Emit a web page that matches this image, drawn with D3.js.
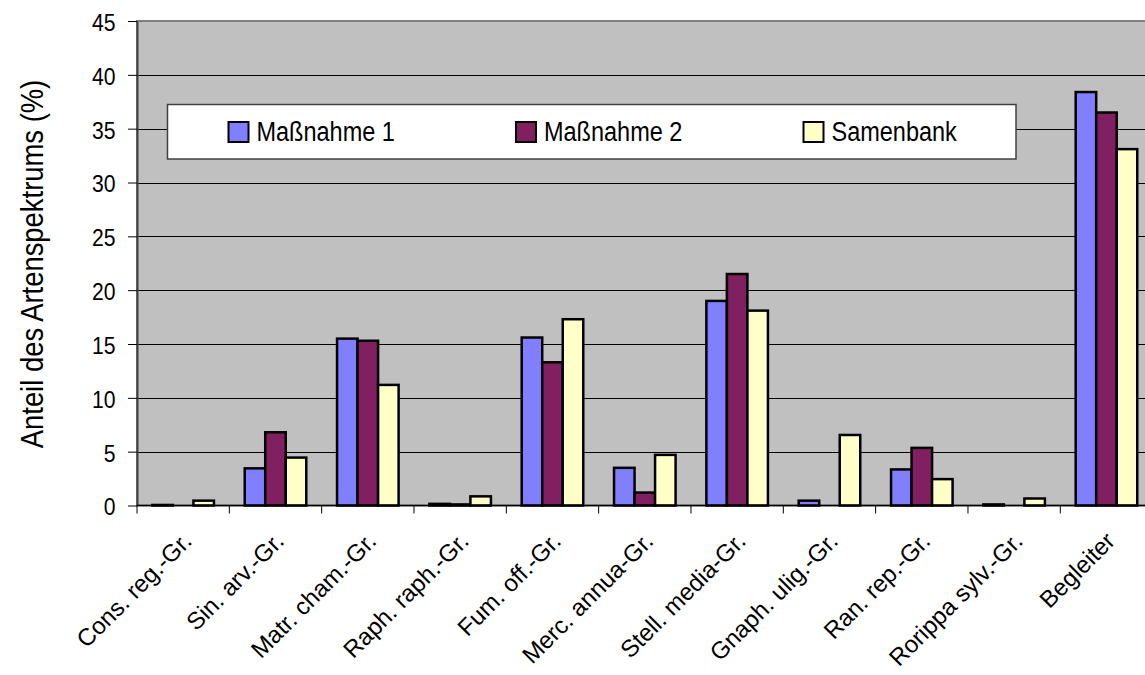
<!DOCTYPE html>
<html>
<head>
<meta charset="utf-8">
<script src="https://cdn.jsdelivr.net/npm/d3@7"></script>
<style>
  body { margin: 0; background: #ffffff; }
  svg { display: block; font-family: "Liberation Sans", Arial, sans-serif; }
</style>
</head>
<body>
<div id="chart"></div>
<script>
/* ********* ********* ********* ********* ********* ********* *********
 * Data
 * ********* ********* ********* ********* ********* ********* ********* */
var categories = ["Cons. reg.-Gr.", "Sin. arv.-Gr.", "Matr. cham.-Gr.", "Raph. raph.-Gr.",
  "Fum. off.-Gr.", "Merc. annua-Gr.", "Stell. media-Gr.", "Gnaph. ulig.-Gr.",
  "Ran. rep.-Gr.", "Rorippa sylv.-Gr.", "Begleiter"];
var seriesNames = ["Maßnahme 1", "Maßnahme 2", "Samenbank"];
var massnahme1 = [0.05, 3.45, 15.5, 0.15, 15.6, 3.5, 19.0, 0.45, 3.35, 0.1, 38.4];
var massnahme2 = [0, 6.8, 15.3, 0.1, 13.3, 1.2, 21.5, 0, 5.35, 0, 36.5];
var samenbank = [0.45, 4.45, 11.2, 0.85, 17.3, 4.7, 18.1, 6.55, 2.45, 0.65, 33.1];
var yTicks = [0, 5, 10, 15, 20, 25, 30, 35, 40, 45];
var yTitle = "Anteil des Artenspektrums (%)";

var colors = ["#8080ff", "#802060", "#ffffc8"];
var seriesValues = [massnahme1, massnahme2, samenbank];

/* ********* ********* ********* ********* ********* ********* *********
 * Layout
 * ********* ********* ********* ********* ********* ********* ********* */
var W = 1145, H = 675;
var plot = { left: 137, top: 21, bottom: 505.5, right: 137 + 92.33 * 11 };

var svg = d3.select("#chart").append("svg")
  .attr("width", W)
  .attr("height", H);

var x = d3.scaleBand()
  .domain(categories)
  .range([plot.left, plot.right]);

var barW = x.bandwidth() / 4.5;
var x1 = d3.scaleBand()
  .domain(seriesNames)
  .range([0, barW * 3]);

var y = d3.scaleLinear()
  .domain([0, 45])
  .range([plot.bottom, plot.top]);

/* plot area */
svg.append("rect")
  .attr("x", plot.left)
  .attr("y", plot.top)
  .attr("width", plot.right - plot.left)
  .attr("height", plot.bottom - plot.top)
  .style("fill", "#c0c0c0")
  .style("stroke", "#808080")
  .style("stroke-width", 2);

/* gridlines */
svg.append("g")
  .attr("class", "grid")
  .selectAll("line")
  .data(yTicks.filter(function(d) { return d > 0 && d < 45; }))
  .enter().append("line")
    .attr("x1", plot.left)
    .attr("x2", plot.right)
    .attr("y1", function(d) { return Math.round(y(d)) + 0.5; })
    .attr("y2", function(d) { return Math.round(y(d)) + 0.5; })
    .style("stroke", "#000000")
    .style("stroke-width", 1);

/* ********* ********* ********* ********* ********* ********* *********
 * Bars
 * ********* ********* ********* ********* ********* ********* ********* */
var rows = [];
categories.forEach(function(c, i) {
  seriesNames.forEach(function(s, j) {
    rows.push({ cat: c, series: s, value: seriesValues[j][i], color: colors[j] });
  });
});

svg.append("g")
  .attr("class", "bars")
  .selectAll("rect")
  .data(rows)
  .enter().append("rect")
    .attr("x", function(d) { return x(d.cat) + (x.bandwidth() - barW * 3) / 2 + x1(d.series); })
    .attr("y", function(d) { return y(d.value); })
    .attr("width", x1.bandwidth())
    .attr("height", function(d) { return y(0) - y(d.value); })
    .style("fill", function(d) { return d.color; })
    .style("stroke", "#000000")
    .style("stroke-width", 2.5);

/* ********* ********* ********* ********* ********* ********* *********
 * Axes
 * ********* ********* ********* ********* ********* ********* ********* */
var yAxis = svg.append("g")
  .attr("transform", "translate(" + plot.left + ",0)")
  .call(d3.axisLeft(y).tickValues(yTicks).tickSize(9).tickPadding(0).tickSizeOuter(0));

yAxis.attr("font-family", null).attr("font-size", null);
yAxis.select(".domain").style("stroke", "#404040").style("stroke-width", 2);
yAxis.selectAll(".tick line").style("stroke", "#000000");
yAxis.selectAll(".tick text")
  .attr("x", -21.5 / 0.9)
  .attr("dy", "0.4em")
  .attr("transform", "scale(0.9,1)")
  .style("font-size", "23.5px")
  .style("fill", "#000000");

var xAxis = svg.append("g")
  .attr("transform", "translate(0," + plot.bottom + ")");

xAxis.append("line")
  .attr("x1", plot.left)
  .attr("x2", plot.right)
  .style("stroke", "#000000")
  .style("stroke-width", 1.5);

xAxis.selectAll(".xtick")
  .data(categories)
  .enter().append("line")
    .attr("class", "xtick")
    .attr("x1", function(d) { return x(d); })
    .attr("x2", function(d) { return x(d); })
    .attr("y1", 0)
    .attr("y2", 8)
    .style("stroke", "#000000");

xAxis.selectAll(".xlabel")
  .data(categories)
  .enter().append("text")
    .attr("class", "xlabel")
    .attr("transform", function(d) {
      return "translate(" + (x(d) + x.bandwidth() / 2 + 10) + ",37) rotate(-45)";
    })
    .attr("text-anchor", "end")
    .style("font-size", "24px")
    .text(function(d) { return d; });

/* y title */
svg.append("text")
  .attr("transform", "translate(43,264) rotate(-90) scale(0.87,1)")
  .attr("text-anchor", "middle")
  .style("font-size", "31.5px")
  .text(yTitle);

/* ********* ********* ********* ********* ********* ********* *********
 * Legend
 * ********* ********* ********* ********* ********* ********* ********* */
var legend = svg.append("g").attr("class", "legend");

legend.append("rect")
  .attr("x", 167.5)
  .attr("y", 104.5)
  .attr("width", 848.5)
  .attr("height", 54.5)
  .style("fill", "#ffffff")
  .style("stroke", "#404040")
  .style("stroke-width", 1.5);

var item = legend.selectAll(".item")
  .data(seriesNames)
  .enter().append("g")
    .attr("class", "item")
    .attr("transform", function(d, i) { return "translate(" + (228.5 + i * 287.5) + ",0)"; });

item.append("rect")
  .attr("x", 0)
  .attr("y", 122)
  .attr("width", 20)
  .attr("height", 20)
  .style("fill", function(d, i) { return colors[i]; })
  .style("stroke", "#000000")
  .style("stroke-width", 2);

item.append("text")
  .attr("transform", "translate(28,141) scale(0.87,1)")
  .style("font-size", "27px")
  .text(function(d) { return d; });
</script>
</body>
</html>
